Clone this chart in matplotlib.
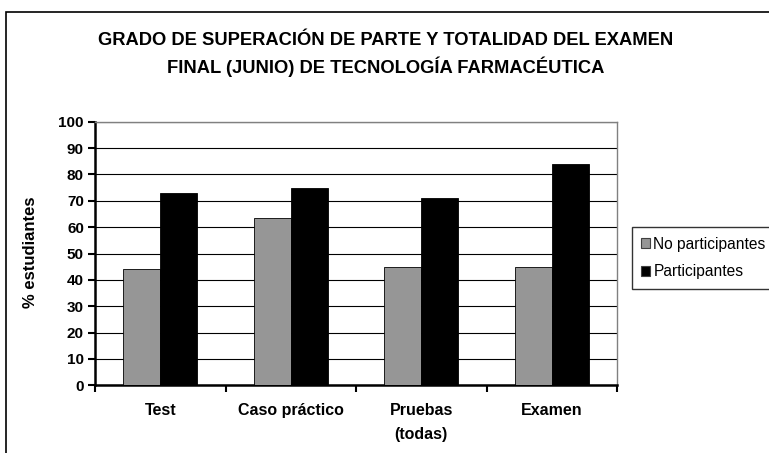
import matplotlib
matplotlib.use("Agg")
import matplotlib.pyplot as plt
from matplotlib.patches import Rectangle
import numpy as np

categories = ["Test", "Caso práctico", "Pruebas\n(todas)", "Examen"]
no_participantes = [44, 63.5, 45, 45]
participantes = [73, 75, 71, 84]
series_names = ["No participantes", "Participantes"]
yticks = list(range(0, 101, 10))
title = "GRADO DE SUPERACIÓN DE PARTE Y TOTALIDAD DEL EXAMEN\nFINAL (JUNIO) DE TECNOLOGÍA FARMACÉUTICA"
ylabel = "% estudiantes"

plt.rcParams['font.family'] = ['Liberation Sans', 'DejaVu Sans']

W, H = 769, 453
fig = plt.figure(figsize=(W / 100, H / 100), dpi=100)
ax = fig.add_axes([95 / W, 1 - 385.3 / H, (617 - 95) / W, (385.3 - 121.7) / H])

x = np.arange(len(categories))
w = 0.2835
ax.bar(x - w / 2, no_participantes, w, color="#969696", edgecolor="black", linewidth=0.6,
       label=series_names[0], zorder=3)
ax.bar(x + w / 2, participantes, w, color="black", edgecolor="black", linewidth=0.6,
       label=series_names[1], zorder=3)

ax.set_xlim(-0.5, len(categories) - 0.5)
ax.set_ylim(0, 100)
ax.set_yticks(yticks)
ax.set_yticklabels([str(t) for t in yticks], fontsize=11, fontweight="bold")
ax.yaxis.grid(True, color="black", linewidth=0.8, zorder=0)
ax.set_axisbelow(True)

ax.set_xticks(x)
ax.set_xticklabels(categories, fontsize=11.5, fontweight="bold", linespacing=1.75)
ax.tick_params(axis="x", which="major", length=0, pad=13)
ax.set_xticks(np.arange(-0.5, len(categories), 1.0), minor=True)
ax.tick_params(axis="x", which="minor", length=5, width=1.5, direction="out")
ax.tick_params(axis="y", length=5, width=1.5, direction="out", pad=3)

for s in ["left", "bottom"]:
    ax.spines[s].set_linewidth(1.8)
    ax.spines[s].set_color("black")
for s in ["top", "right"]:
    ax.spines[s].set_linewidth(1.0)
    ax.spines[s].set_color("#808080")

ax.set_ylabel(ylabel, fontsize=12, fontweight="bold")
ax.yaxis.set_label_coords(38 / W, 1 - 252 / H, transform=fig.transFigure)

fig.text(386 / W, 1 - 54.5 / H, title, ha="center", va="center", fontsize=13.2,
         fontweight="bold", linespacing=1.45)

leg = fig.legend(loc="upper left", bbox_to_anchor=(631.5 / W, 1 - 227.5 / H),
                 fontsize=11.2, frameon=True, fancybox=False, handlelength=0.6,
                 handleheight=0.6, handletextpad=0.2, borderpad=0.6,
                 labelspacing=0.8, borderaxespad=0)
leg.get_frame().set_edgecolor("black")
leg.get_frame().set_linewidth(1.0)
for h in leg.legend_handles:
    h.set_edgecolor("#404040")
    h.set_linewidth(0.8)

fig.patches.append(Rectangle((6 / W, -0.1), 1.0, 1 - 12 / H + 0.1, transform=fig.transFigure,
                             fill=False, edgecolor="black", linewidth=1.2))

fig.savefig("out.png", dpi=100)
